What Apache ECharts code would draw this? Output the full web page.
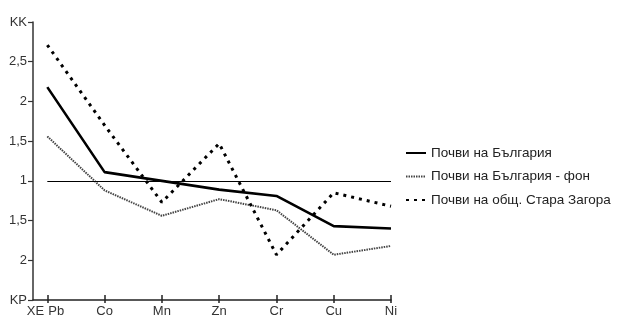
<!DOCTYPE html>
<html>
<head>
<meta charset="utf-8">
<script src="https://cdn.jsdelivr.net/npm/echarts@6/dist/echarts.min.js"></script>
<style>
  html, body { margin: 0; padding: 0; background: #fff; }
  #chart { width: 618px; height: 320px; }
</style>
</head>
<body>
<div id="chart"></div>
<script>
// Elements along the horizontal axis
const elements = ['Pb', 'Co', 'Mn', 'Zn', 'Cr', 'Cu', 'Ni'];
const xAxisTitle = 'XE';

// Axis position: above 1 the concentration coefficient (KK),
// below 1 the dispersion coefficient (KP) mirrored around 1
const bulgariaSoils = [2.18, 1.11, 1.0, 0.89, 0.81, 0.43, 0.4];
const bulgariaBackground = [1.56, 0.88, 0.56, 0.77, 0.63, 0.07, 0.18];
const staraZagoraSoils = [2.71, 1.7, 0.73, 1.47, 0.07, 0.85, 0.68];

// Tick labels from bottom (-0.5) to top (3) in steps of 0.5
const yTickLabels = ['KP', '2', '1,5', '1', '1,5', '2', '2,5', 'KK'];

const seriesNames = ['Почви на България', 'Почви на България - фон', 'Почви на общ. Стара Загора'];

const toPoints = arr => arr.map((v, i) => [i, v]);
const idx = elements.map((_, i) => i);
const xMin = -0.25;

const chart = echarts.init(document.getElementById('chart'), null, { renderer: 'canvas' });
const font = 'Liberation Sans, Arial, sans-serif';

chart.setOption({
  animation: false,
  textStyle: { fontFamily: font },
  grid: { left: 33, right: 227, top: 22, bottom: 20 },
  legend: {
    orient: 'vertical',
    left: 400,
    top: 141,
    itemWidth: 20,
    itemHeight: 10,
    itemGap: 9.5,
    itemStyle: { opacity: 0 },
    textStyle: { fontSize: 13.5, color: '#222', fontFamily: font },
    data: seriesNames
  },
  xAxis: [{
    type: 'value',
    min: xMin,
    max: 6,
    splitLine: { show: false },
    axisLine: { onZero: false, lineStyle: { color: '#222', width: 1.5 } },
    axisTick: { show: true, inside: false, length: 3, customValues: idx, lineStyle: { color: '#222', width: 1.5 } },
    axisLabel: {
      customValues: [xMin].concat(idx),
      margin: 5,
      fontSize: 13,
      color: '#333',
      fontFamily: font,
      formatter: v => {
        if (v < 0) return '{xe|' + xAxisTitle + '}';
        const name = elements[Math.round(v)];
        return Math.round(v) === 0 ? '{pb|' + name + '}' : name;
      },
      rich: {
        xe: { fontSize: 13, color: '#333', padding: [0, 0, 0, 5] },
        pb: { fontSize: 13, color: '#333', padding: [0, 0, 0, 18] }
      }
    }
  }, {
    type: 'value',
    min: xMin,
    max: 6,
    position: 'bottom',
    splitLine: { show: false },
    axisLine: { show: false, onZero: false },
    axisLabel: { show: false },
    axisTick: { show: true, inside: true, length: 5, customValues: idx, lineStyle: { color: '#222', width: 1.5 } }
  }],
  yAxis: {
    type: 'value',
    min: -0.5,
    max: 3,
    interval: 0.5,
    splitLine: { show: false },
    axisLine: { show: true, onZero: false, lineStyle: { color: '#333', width: 1.5 } },
    axisTick: { show: true, length: 5, lineStyle: { color: '#333', width: 1.2 } },
    axisLabel: {
      margin: 6,
      fontSize: 13,
      color: '#333',
      fontFamily: font,
      showMinLabel: true,
      showMaxLabel: true,
      formatter: (v) => yTickLabels[Math.round((v + 0.5) / 0.5)]
    }
  },
  series: [{
    name: seriesNames[0],
    type: 'line',
    data: toPoints(bulgariaSoils),
    symbol: 'none',
    z: 5,
    lineStyle: { color: '#000', width: 2.6, type: 'solid' },
    itemStyle: { color: '#000' },
    markLine: {
      silent: true,
      symbol: 'none',
      label: { show: false },
      lineStyle: { color: '#000', width: 1, type: 'solid' },
      data: [[{ coord: [0, 1] }, { coord: [elements.length - 1, 1] }]]
    }
  }, {
    name: seriesNames[1],
    type: 'line',
    data: toPoints(bulgariaBackground),
    symbol: 'none',
    lineStyle: { color: '#444', width: 2, type: [1.5, 1] },
    itemStyle: { color: '#444' }
  }, {
    name: seriesNames[2],
    type: 'line',
    data: toPoints(staraZagoraSoils),
    symbol: 'none',
    lineStyle: { color: '#000', width: 3, type: [3, 5] },
    itemStyle: { color: '#000' }
  }]
});
</script>
</body>
</html>
